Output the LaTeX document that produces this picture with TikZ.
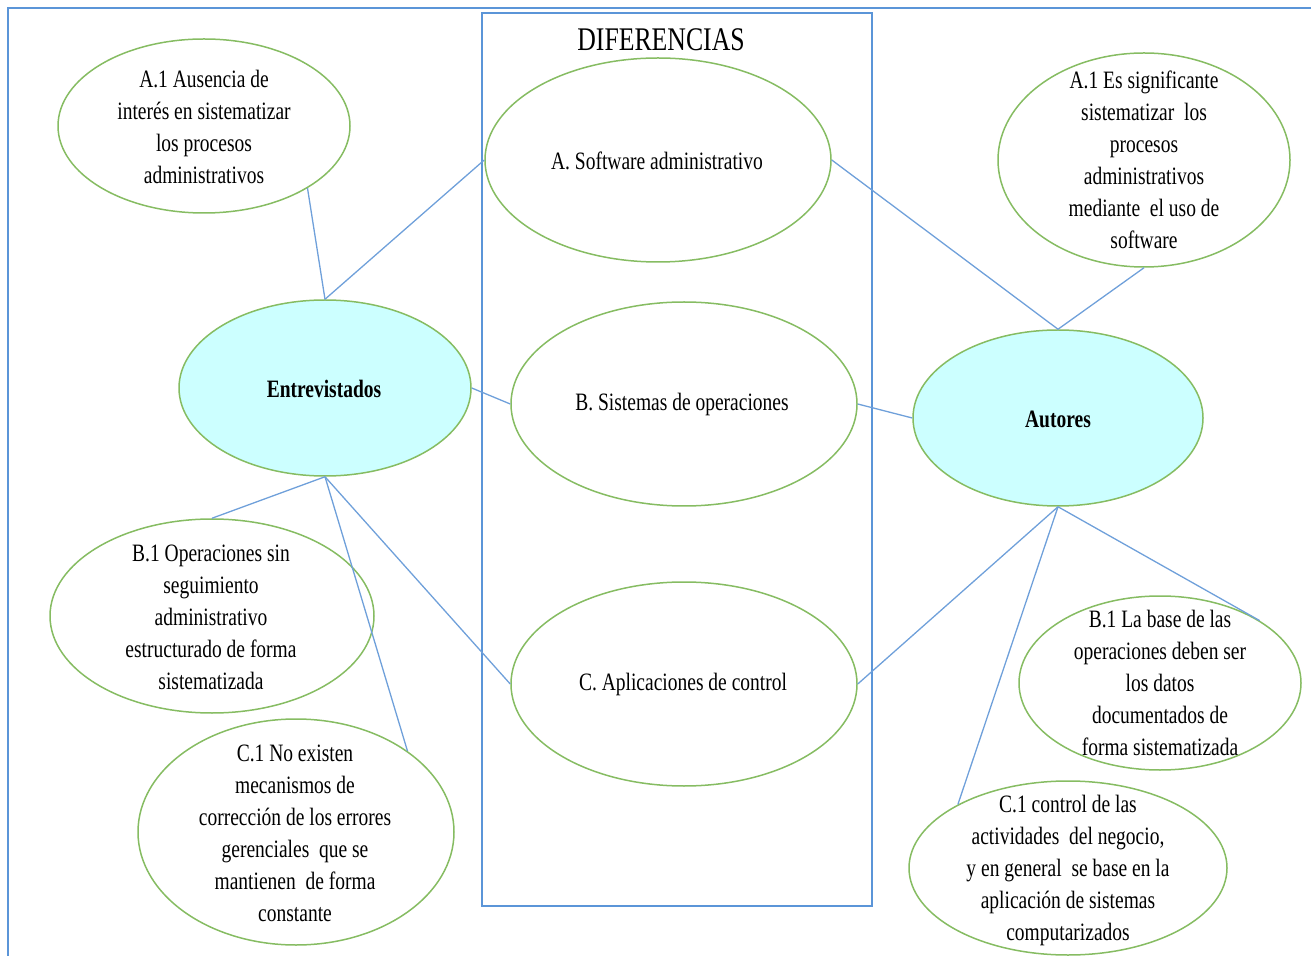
\documentclass[tikz,border=0pt]{standalone}
\usepackage{fontspec}
\setmainfont{Liberation Serif}[FakeStretch=0.78]
\usetikzlibrary{shapes.geometric}
\definecolor{lineblue}{HTML}{6FA0DA}
\definecolor{frameblue}{HTML}{5B95D8}
\definecolor{ellgreen}{HTML}{86BC62}
\definecolor{cyanfill}{HTML}{CCFFFF}
\begin{document}
\begin{tikzpicture}[x=0.5pt,y=-0.5pt,
  ell/.style={ellipse, draw=ellgreen, line width=0.75pt, inner sep=0pt},
  txt/.style={align=center, font=\fontsize{12.5}{16}\selectfont, inner sep=0pt},
  conn/.style={draw=lineblue, line width=0.65pt}]
\useasboundingbox (0,0) rectangle (1311,956);
\coordinate (ftl) at (8,8);
\coordinate (ftr) at (1311,8);
\coordinate (fbl) at (8,956);
\draw[frameblue, line width=0.7pt] (ftr) -- (ftl) -- (fbl);
\node[draw=frameblue, line width=0.8pt, minimum width=195pt, minimum height=446.5pt, inner sep=0pt, anchor=north west] (box) at (481,12) {};
\node[font=\fontsize{16.5}{18}\selectfont, inner sep=0pt] (dif) at (661,40) {DIFERENCIAS};

% central ellipses
\node[ell, minimum width=173pt, minimum height=102pt] (a) at (658,160) {};
\node[ell, minimum width=173pt, minimum height=102pt] (b) at (684,404) {};
\node[ell, minimum width=173pt, minimum height=102pt] (c) at (684,684) {};
% main ellipses
\node[ell, fill=cyanfill, minimum width=146pt, minimum height=88pt] (ent) at (325,388) {};
\node[ell, fill=cyanfill, minimum width=145pt, minimum height=88pt] (aut) at (1058,418) {};
% detail ellipses
\node[ell, minimum width=146pt, minimum height=87pt] (a1l) at (204,126) {};
\node[ell, minimum width=146pt, minimum height=107pt] (a1r) at (1144,160) {};
\node[ell, minimum width=162pt, minimum height=97pt] (b1l) at (212,616) {};
\node[ell, minimum width=158pt, minimum height=113pt] (c1l) at (296,832) {};
\node[ell, minimum width=141pt, minimum height=87pt] (b1r) at (1160,683) {};
\node[ell, minimum width=159pt, minimum height=87pt] (c1r) at (1068,868) {};

% texts
\node[txt] (at) at (657,161) {A. Software administrativo};
\node[txt] (bt) at (682,404) {B. Sistemas de operaciones};
\node[txt] (ct) at (683,684) {C. Aplicaciones de control};
\node[txt, font=\fontsize{12.5}{16}\selectfont\bfseries] (entt) at (324,389) {Entrevistados};
\node[txt, font=\fontsize{12.5}{16}\selectfont\bfseries] (autt) at (1058,419) {Autores};
\node[txt] (a1lt) at (204,127) {A.1 Ausencia de\\interés en sistematizar\\los procesos\\administrativos};
\node[txt] (a1rt) at (1144,160) {A.1 Es significante\\sistematizar\ \ los\\procesos\\administrativos\\mediante\ \ el uso de\\software};
\node[txt] (b1lt) at (211,617) {B.1 Operaciones sin\\seguimiento\\administrativo\\estructurado de forma\\sistematizada};
\node[txt] (c1lt) at (295,833) {C.1 No existen\\mecanismos de\\corrección de los errores\\gerenciales\ \ que se\\mantienen\ \ de forma\\constante};
\node[txt] (b1rt) at (1160,683) {B.1 La base de las\\operaciones deben ser\\los datos\\documentados de\\forma sistematizada};
\node[txt] (c1rt) at (1068,870) {C.1 control de las\\actividades\ \ del negocio,\\y en general\ \ se base en la\\aplicación de sistemas\\computarizados};

% connectors
\draw[conn] (a1l.-31) -- (ent.north);
\draw[conn] (ent.north) -- (a.west);
\draw[conn] (ent.east) -- (b.west);
\draw[conn] (ent.south) -- (b1l.north);
\draw[conn] (ent.south) -- (c1l.36);
\draw[conn] (ent.south) -- (c.west);
\draw[conn] (a.east) -- (aut.north);
\draw[conn] (a1r.south) -- (aut.north);
\draw[conn] (b.east) -- (aut.west);
\draw[conn] (aut.south) -- (c.east);
\draw[conn] (aut.south) -- (c1r.150);
\draw[conn] (aut.south) -- (b1r.32);
\end{tikzpicture}
\end{document}
